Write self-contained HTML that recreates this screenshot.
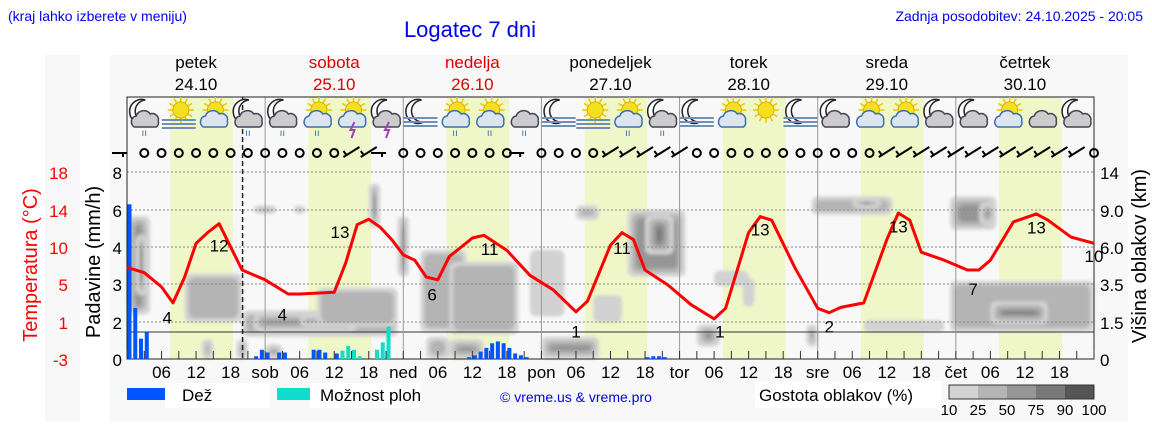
<!DOCTYPE html>
<html><head><meta charset="utf-8">
<style>
html,body{margin:0;padding:0;background:#fff;}
body{width:1152px;height:443px;overflow:hidden;font-family:"Liberation Sans",sans-serif;}
svg text{font-family:"Liberation Sans","DejaVu Sans",sans-serif;}
</style></head>
<body>
<svg id="chart" width="1152" height="443" viewBox="0 0 1152 443" xmlns="http://www.w3.org/2000/svg">
<defs><filter id="soft" x="-20%" y="-20%" width="140%" height="140%"><feGaussianBlur stdDeviation="1.6"/></filter></defs>
<rect x="45" y="55" width="35" height="367" fill="#f8f8f8"/>
<rect x="110" y="55" width="1018" height="367" fill="#f8f8f8"/>
<text x="8" y="21" font-size="14" fill="#0000ee">(kraj lahko izberete v meniju)</text>
<text x="470" y="37" font-size="22" fill="#0000ee" text-anchor="middle">Logatec 7 dni</text>
<text x="1143" y="21" font-size="14" fill="#0000ee" text-anchor="end">Zadnja posodobitev: 24.10.2025 - 20:05</text>
<g id="bands"></g><g id="clouds" filter="url(#soft)"></g><g id="grid"></g><g id="bars"></g><g id="temp"></g><g id="icons"></g><g id="wind"></g><g id="axes"></g>
<text transform="translate(37,265) rotate(-90)" font-size="20" fill="#ff0000" text-anchor="middle">Temperatura (°C)</text>
<text transform="translate(100,262) rotate(-90)" font-size="20" fill="#000" text-anchor="middle">Padavine (mm/h)</text>
<text transform="translate(1146,256) rotate(-90)" font-size="20" fill="#000" text-anchor="middle">Višina oblakov (km)</text>
<g>
<rect x="127" y="388" width="46" height="12" fill="#0055ff"/>
<rect x="165" y="383" width="105" height="25" fill="#fff"/>
<text x="182" y="401" font-size="17">Dež</text>
<rect x="277" y="388" width="35" height="12" fill="#11ddcc"/>
<rect x="310" y="383" width="110" height="25" fill="#fff"/>
<text x="320" y="401" font-size="17">Možnost ploh</text>
<text x="500" y="402" font-size="14" fill="#0000ee">© vreme.us &amp; vreme.pro</text>
<rect x="755" y="381" width="187" height="27" fill="#fff"/>
<text x="759" y="401" font-size="17">Gostota oblakov (%)</text>
<g id="cbar"></g>
</g>
</svg>
<script>
const NS='http://www.w3.org/2000/svg';
const dayNames=['petek','sobota','nedelja','ponedeljek','torek','sreda','četrtek'];
const dayDates=['24.10','25.10','26.10','27.10','28.10','29.10','30.10'];
const dayAbbr=['','sob','ned','pon','tor','sre','čet'];
const precipTicks=[0,2,3,4,6,8];
const tempTicks=['-3','1','5','10','14','18'];
const cloudTicks=[0,1.5,3.5,6,9,14];
const cloudTickLabels=['0','1.5','3.5','6.0','9.0','14'];
const tempHours=[0,3,6,8,10,12,14,16,18,20,24,28,30,36,38,40,42,44,46,48,50,52,54,56,60,62,66,70,74,78,80,84,86,88,90,94,98,102,104,108,110,112,116,120,122,124,128,132,134,136,138,142,146,148,150,154,158,160,164,168];
const tempValues=[7.3,6.7,5.1,3.3,6.2,10.0,11.2,12.2,9.6,7.0,5.9,4.3,4.3,4.5,7.8,12.1,12.7,11.8,10.4,8.7,8.1,6.2,5.9,8.5,10.6,10.9,9.2,6.4,4.8,2.3,3.5,9.8,11.2,10.4,7.0,5.3,3.1,1.5,2.7,11.2,13.0,12.6,7.3,2.7,2.2,2.8,3.3,10.4,13.4,12.6,9.0,8.1,7.0,7.0,8.1,12.4,13.3,12.6,10.7,10.0];
const tempLabelHours=[7,16,27,37,53,63,78,86,103,110,122,134,147,158,168];
const tempLabels=['4','12','4','13','6','11','1','11','1','13','2','13','7','13','10'];
const tempLabelValues=[1.9,10.0,2.2,11.5,4.5,9.6,0.3,9.7,0.3,11.8,0.9,12.1,5.1,12.0,8.8];
const rainHours=[0,1,2,3,22,23,24,26,27,32,33,34,36,59,60,61,62,63,64,65,66,67,68,69,90,91,92,93];
const rainValues=[6.3,2.37,1.1,1.45,0.15,0.5,0.35,0.35,0.35,0.5,0.5,0.35,0.3,0.1,0.2,0.4,0.6,0.85,0.95,0.85,0.6,0.3,0.2,0.1,0.1,0.15,0.15,0.1];
const showerHours=[37,38,39,40,43,44,45];
const showerValues=[0.45,0.7,0.5,0.15,0.5,0.9,1.75];
const iconTypes=['mcr','sf','sc','mcr','mcr','scr','sct','mct','mf','scr','scr','cr','mf','sf','scr','mcr','mf','sc','s','mf','mc','sc','sc','mc','mc','sc','c','mc'];
const windTypes='lOOOOOOOOOOOObblOOOOOOOlOOOObbbbbOOOOOOOOOOObbbbbbbbbbbbO';
// cloud blobs: start hour, end hour, top km, bottom km, density level 1-5
const blobStart=[0,1.5,10,22,29,20,22,33,42,47,51,56,70,78,87,90,81,72,99,102,107,118,119,126,128,143,148,143,150,13,19,24,52,56,30];
const blobEnd=[4,3.5,20,26,31,47,40,47,44,49,59,68,76,82,97,95,86,82,103,108,109,120,133,131,142,151,151,168,160,15,21,27,56,62,34];
const blobTop=[8.5,7,4.2,9.6,9.6,2.1,2,3.3,12.5,8.5,5.8,5,5.8,9.6,9,8.6,2.9,0.9,1.4,4.4,3.9,1.4,10.8,10.6,1.6,10.8,10,3.7,2.6,0.8,0.8,0.6,0.9,0.8,1.9];
const blobBot=[1.9,2.9,1.5,8.7,8.7,0.9,1.1,1.3,7.6,4,1.1,1.0,1.8,8.2,4,5.5,1.5,0,0.5,3.4,2.3,0.5,8.6,9.2,1.1,7.4,7.8,1.1,1.4,0,0,0,0,0,1.3];
const blobLevel=[3,4,2,2,2,2,3,2,4,4,2,2,1,2,3,4,1,3,4,1,1,4,2,4,1,3,4,2,4,2,3,3,2,3,2];
const densityLabels=['10','25','50','75','90','100'];
const densityColors=['#d2d2d2','#b4b4b4','#969696','#787878','#555555'];

const X0=127,X1=1094,YB=359,YT=97,HP=(X1-X0)/168;
function xh(h){return X0+h*HP;}
const gridY=[359,322,284,247,210,172];
function pw(v,ticks){for(let i=0;i<ticks.length-1;i++){if(v<=ticks[i+1]){return gridY[i]+(v-ticks[i])/(ticks[i+1]-ticks[i])*(gridY[i+1]-gridY[i]);}}return gridY[5];}
function yP(v){return pw(v,precipTicks);}
function yC(v){return pw(v,cloudTicks);}
function yT(t){return 359-(t+3)*8.9;}
function mk(tag,attrs,parent){const e=document.createElementNS(NS,tag);for(const k in attrs)e.setAttribute(k,attrs[k]);parent.appendChild(e);return e;}
const $=id=>document.getElementById(id);

for(let d=0;d<7;d++){
 const b=mk('rect',{x:xh(d*24+7.5),y:YT,width:xh(d*24+18.4)-xh(d*24+7.5),height:YB-YT,fill:'#eff7c9'},$('bands'));
 
 
 const n=mk('text',{x:xh(d*24+12),y:68,'font-size':17,'text-anchor':'middle',fill:(d==1||d==2)?'#dd0000':'#000'},$('axes'));n.textContent=dayNames[d];
 
 
 const dt=mk('text',{x:xh(d*24+12),y:90,'font-size':17,'text-anchor':'middle',fill:(d==1||d==2)?'#dd0000':'#000'},$('axes'));dt.textContent=dayDates[d];
 
 
}
for(let i=0;i<blobStart.length;i++){
 const x0=xh(blobStart[i]),x1=xh(blobEnd[i]),y0=yC(blobTop[i]),y1=yC(blobBot[i]);
 for(let l=0;l<blobLevel[i];l++){
  const ix=Math.min(l*4,(x1-x0)/2-1),iy=Math.min(l*4,(y1-y0)/2-1);
  const r=mk('rect',{x:x0+ix,y:y0+iy,width:Math.max(2,x1-x0-2*ix),height:Math.max(2,y1-y0-2*iy),rx:6,fill:densityColors[l]},$('clouds'));
  
  
 }
}
gridY.slice(1).forEach(y=>{mk('line',{x1:X0,x2:X1,y1:y,y2:y,stroke:'#888','stroke-width':1,'stroke-dasharray':'2,2'},$('grid'));});
mk('line',{x1:X0,x2:X1,y1:332,y2:332,stroke:'#333','stroke-width':1},$('grid'));
for(let d=1;d<7;d++){mk('line',{x1:xh(d*24),x2:xh(d*24),y1:YT,y2:YB,stroke:'#999','stroke-width':1},$('grid'));}
mk('line',{x1:xh(20.08),x2:xh(20.08),y1:YT,y2:YB,stroke:'#222','stroke-width':1.5,'stroke-dasharray':'5,3'},$('grid'));
mk('rect',{x:X0,y:YT,width:X1-X0,height:YB-YT,fill:'none',stroke:'#222','stroke-width':1},$('grid'));
rainHours.forEach((h,i)=>{const y=yP(rainValues[i]);const r=mk('rect',{x:xh(h)+0.5,y:y,width:4,height:YB-y,fill:'#0055ff'},$('bars'));
 
 });
showerHours.forEach((h,i)=>{const y=yP(showerValues[i]);const r=mk('rect',{x:xh(h)+0.5,y:y,width:4,height:YB-y,fill:'#11ddcc'},$('bars'));
 
 });
const pts=tempHours.map((h,i)=>xh(h).toFixed(1)+','+yT(tempValues[i]).toFixed(1)).join(' ');
const tl=mk('polyline',{points:pts,fill:'none',stroke:'#ff0000','stroke-width':3,'stroke-linejoin':'round'},$('temp'));


tempLabelHours.forEach((h,i)=>{const t=mk('text',{x:xh(h),y:yT(tempLabelValues[i])+8,'font-size':17,'text-anchor':'middle'},$('temp'));t.textContent=tempLabels[i];
 
 });
for(let i=0;i<6;i++){
 const a=mk('text',{x:122,y:gridY[i]+7,'font-size':17,'text-anchor':'end'},$('axes'));a.textContent=precipTicks[i];
 
 
 const b=mk('text',{x:68,y:gridY[i]+7,'font-size':17,'text-anchor':'end',fill:'#ff0000'},$('axes'));b.textContent=tempTicks[i];
 
 
 const c=mk('text',{x:1100,y:gridY[i]+7,'font-size':17},$('axes'));c.textContent=cloudTickLabels[i];
 
 
}
for(let h=0;h<=168;h+=3){mk('line',{x1:xh(h),x2:xh(h),y1:YB-8,y2:YB,stroke:'#333','stroke-width':1},$('axes'));
 if(h%6==0&&h<168){const hr=h%24;let s=hr==0?dayAbbr[h/24]:String(hr).padStart(2,'0');if(s){const t=mk('text',{x:xh(h),y:378,'font-size':17,'text-anchor':'middle'},$('axes'));t.textContent=s;
 
 }}}
for(let i=0;i<5;i++){mk('rect',{x:949+i*29,y:385,width:29,height:14,fill:densityColors[i]},$('cbar'));}
mk('rect',{x:949,y:385,width:145,height:14,fill:'none',stroke:'#333'},$('cbar'));
densityLabels.forEach((s,i)=>{const t=mk('text',{x:949+i*29,y:415,'font-size':15,'text-anchor':'middle'},$('cbar'));t.textContent=s;
 
 });
for(let i=0;i<windTypes.length;i++){const x=xh(i*3),y=153,c=windTypes[i];
 if(c=='O'){mk('circle',{cx:x,cy:y,r:4,fill:'none',stroke:'#000','stroke-width':2},$('wind'));}
 else if(c=='l'){mk('path',{d:`M${x-15},${y} L${x},${y} M${x-4},${y} l0,4`,stroke:'#000','stroke-width':2,fill:'none'},$('wind'));}
 else{mk('path',{d:`M${x-8},${y+4} L${x+8},${y-6} M${x-5},${y+2} l-3,-4`,stroke:'#000','stroke-width':2,fill:'none'},$('wind'));}}
function sun(g,x,y,r){for(let k=0;k<12;k++){const a=k*Math.PI/6;mk('line',{x1:x+Math.cos(a)*r,y1:y+Math.sin(a)*r,x2:x+Math.cos(a)*(r+5),y2:y+Math.sin(a)*(r+5),stroke:'#e8c800','stroke-width':1.5},g);}mk('circle',{cx:x,cy:y,r:r,fill:'#f5e020',stroke:'#e0b000'},g);}
function moon(g,x,y){mk('path',{d:`M${x+4},${y-12} A12,12 0 1,0 ${x+6},${y+10} A10,10 0 1,1 ${x+4},${y-12}Z`,fill:'#fff',stroke:'#222','stroke-width':1.5},g);}
function cloud(g,x,y,fill,st){mk('path',{d:`M${x-12},${y+7} a6,6 0 0,1 2,-11 a8,8 0 0,1 14,-2 a6,6 0 0,1 8,7 a5,5 0 0,1 -2,6 Z`,fill:fill,stroke:st,'stroke-width':1.5},g);}
function fog(g,x,y){for(let k=0;k<3;k++)mk('line',{x1:x-17,x2:x+17,y1:y+k*4,y2:y+k*4,stroke:'#7090b8','stroke-width':2},g);}
iconTypes.forEach((t,i)=>{const x=xh(i*6+3),y=116;const g=mk('g',{},$('icons'));
 
 
 if(t[0]=='m')moon(g,x-3,y-4);
 if(t[0]=='s')sun(g,x+(t=='s'?0:2),y-6,8);
 if(t.includes('f')&&t!='sf'&&t[0]=='m')fog(g,x,y+2);
 if(t=='sf')fog(g,x,y+4);
 if(t.includes('c')){cloud(g,x+2,y+4,t[0]=='s'?'#dde6f0':'#ccc',t[0]=='s'?'#3a70b0':'#445');}
 if(t.includes('r'))mk('text',{x:x,y:y+20,'font-size':10,fill:'#3a70b0','text-anchor':'middle'},g).textContent='ıı';
 if(t.includes('t'))mk('path',{d:`M${x+3},${y+6} l-4,8 l4,0 l-3,8`,stroke:'#a040c0','stroke-width':2,fill:'none'},g);
});
</script>
</body></html>
